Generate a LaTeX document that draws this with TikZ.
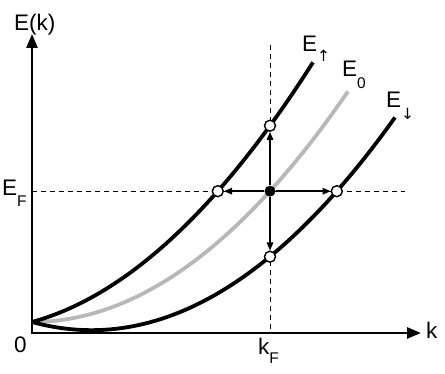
\documentclass[tikz,border=0pt]{standalone}
\usepackage{fontspec}
\setmainfont{Liberation Sans}
\newfontfamily\arrfont{DejaVu Sans}
\usetikzlibrary{arrows.meta}
\newcommand\sbs[2]{\raisebox{-#2}{\fontsize{15.5}{18}\selectfont #1}}
\begin{document}
\begin{tikzpicture}[x=1pt,y=1pt,
  lbl/.style={font=\fontsize{22.5}{26}\selectfont, inner sep=0pt, anchor=base west},
  axisline/.style={line width=2.6pt, {Triangle[length=14pt,width=11pt]}-{Triangle[length=14pt,width=11pt]}},
  guide/.style={line width=0.9pt, dash pattern=on 5pt off 4pt},
  band/.style={line width=3.8pt, black},
  band0/.style={line width=3.8pt, black!28},
  arr/.style={line width=1.5pt, -{Triangle[length=8pt,width=6.5pt]}},
  ring/.style={circle, draw, fill=white, line width=1.4pt, minimum size=11pt, inner sep=0pt},
  dotc/.style={circle, fill=black, minimum size=11pt, inner sep=0pt}]
\useasboundingbox (0,0) rectangle (445,374);
% guides
\coordinate (vtop) at (270,329);
\coordinate (kF) at (270,41);
\coordinate (hl) at (32,182.8);
\coordinate (hr) at (405,182.8);
\draw[guide] (vtop) -- (kF);
\draw[guide] (hl) -- (hr);
% axes
\coordinate (ytip) at (32,340);
\coordinate (xtip) at (421,41);
\draw[axisline] (ytip) |- (xtip);
% bands
\draw[band0] plot[domain=0:3.16, samples=80] ({32+100*\x}, {52+23.1*\x*\x});
\draw[band] plot[domain=0:2.81, samples=80] ({32+100*\x}, {52+23.1*\x*\x+27.5*\x});
\draw[band] plot[domain=0:3.63, samples=80] ({32+100*\x}, {52+23.1*\x*\x-27.5*\x});
% points
\node[ring] (up) at (270,248.3) {};
\node[ring] (dn) at (270,117.3) {};
\node[ring] (lf) at (217.8,182.8) {};
\node[ring] (rt) at (336.8,182.8) {};
\node[dotc] (c) at (270,182.8) {};
\draw[arr] (c) -- (up);
\draw[arr] (c) -- (dn);
\draw[arr] (c) -- (lf);
\draw[arr] (c) -- (rt);
% labels
\node[lbl] (Ek) at (14,343) {E(k)};
\node[lbl] (zero) at (14,21) {0};
\node[lbl] (kl) at (426,35) {k};
\node[lbl] (EF) at (2,178) {E\sbs{F}{11pt}};
\node[lbl] (kFl) at (258,19) {k\sbs{F}{9pt}};
\node[lbl] (Eup) at (302,322) {E\sbs{\arrfont ↑}{10pt}};
\node[lbl] (E0) at (342,297) {E\sbs{0}{12pt}};
\node[lbl] (Edn) at (386,266) {E\sbs{\arrfont ↓}{12pt}};
\end{tikzpicture}
\end{document}
